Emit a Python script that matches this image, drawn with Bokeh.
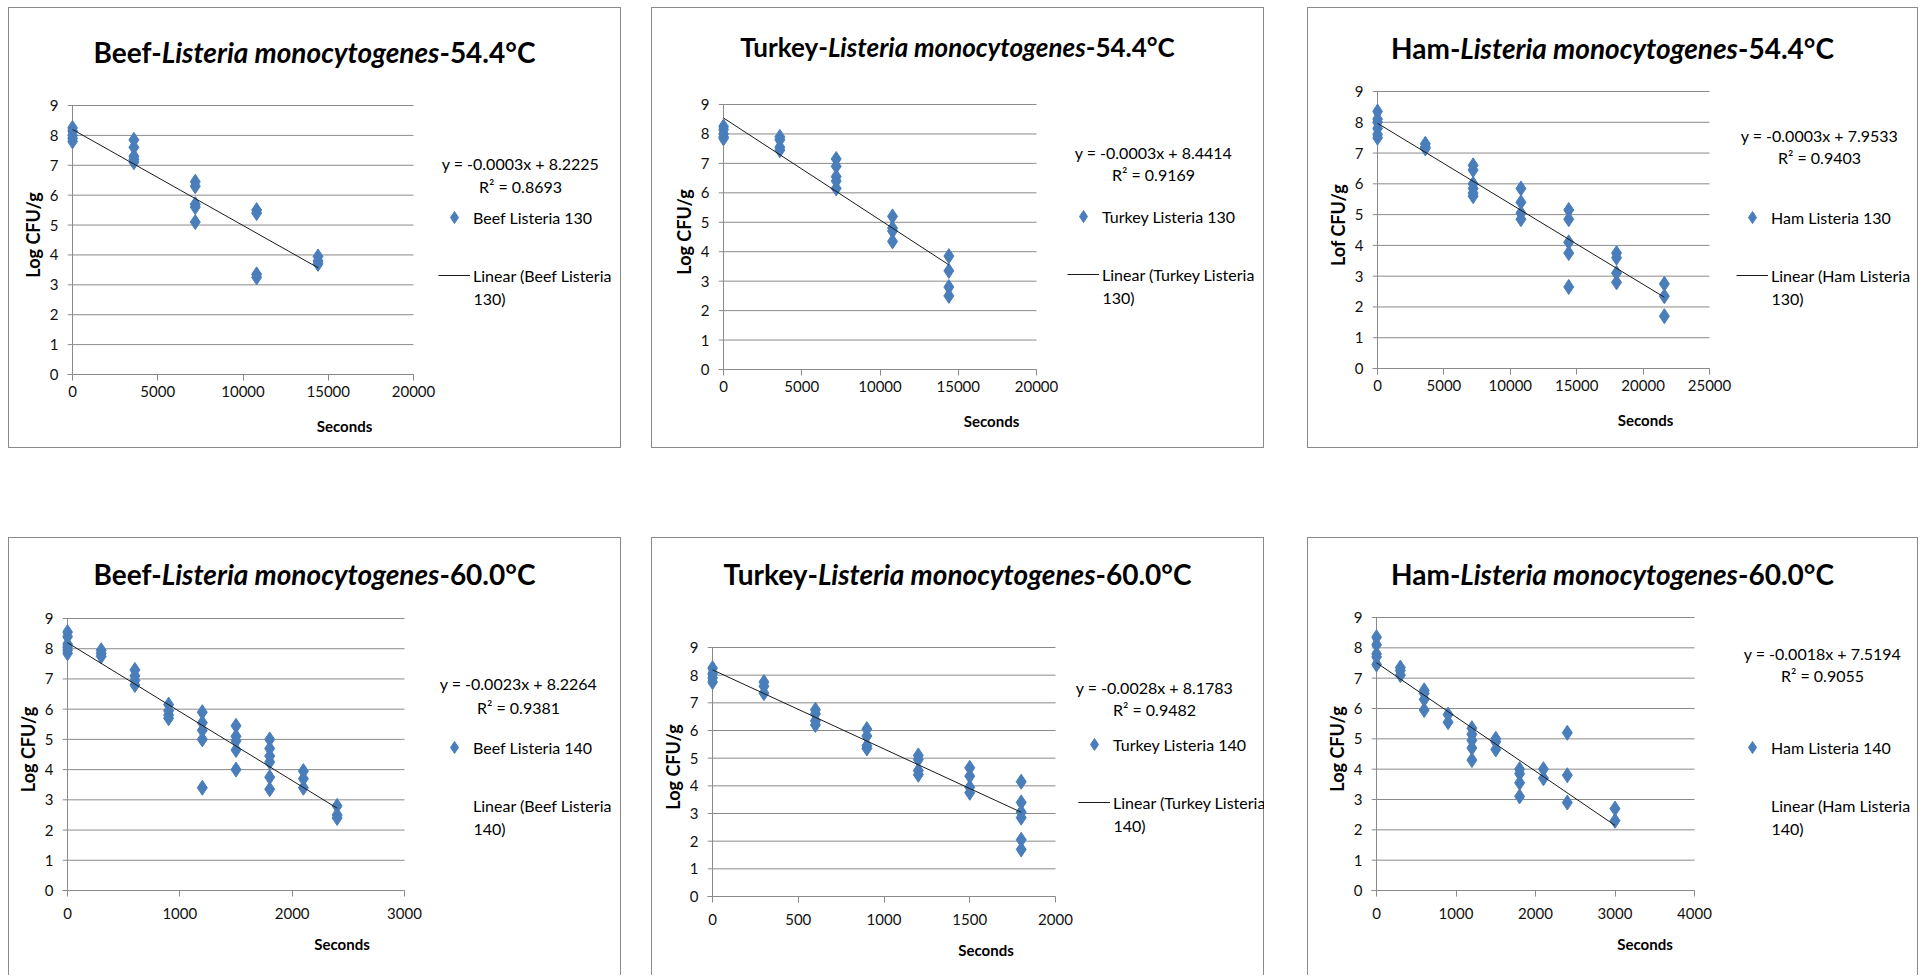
import numpy as np
from bokeh.plotting import figure
from bokeh.layouts import row, column
from bokeh.models import (Div, Spacer, Label, Legend, LegendItem, FixedTicker, Range1d)
from bokeh.embed import file_html
from bokeh.resources import INLINE

# ------------------------------------------------------------------ data
beef130_t = [0, 0, 0, 0, 0, 3600, 3600, 3600, 3600, 3600, 7200, 7200, 7200, 7200, 7200,
             10800, 10800, 10800, 10800, 14400, 14400, 14400]
beef130_y = [8.25, 8.15, 8.0, 7.9, 7.8, 7.85, 7.6, 7.3, 7.2, 7.1, 6.45, 6.3, 5.7, 5.6, 5.1,
             5.5, 5.4, 3.35, 3.25, 3.95, 3.8, 3.7]

turkey130_t = [0, 0, 0, 0, 0, 3600, 3600, 3600, 3600, 7200, 7200, 7200, 7200, 7200,
               10800, 10800, 10800, 10800, 14400, 14400, 14400, 14400]
turkey130_y = [8.25, 8.15, 8.0, 7.9, 7.85, 7.9, 7.8, 7.55, 7.45, 7.15, 6.9, 6.55, 6.4, 6.15,
               5.2, 4.8, 4.7, 4.35, 3.85, 3.35, 2.8, 2.5]

ham130_t = [0, 0, 0, 0, 0, 0, 3600, 3600, 3600, 7200, 7200, 7200, 7200, 7200, 7200,
            10800, 10800, 10800, 10800, 14400, 14400, 14400, 14400, 14400,
            18000, 18000, 18000, 18000, 21600, 21600, 21600]
ham130_y = [8.35, 8.1, 8.0, 7.8, 7.6, 7.5, 7.3, 7.2, 7.15, 6.6, 6.45, 6.0, 5.85, 5.7, 5.6,
            5.85, 5.4, 5.05, 4.85, 5.15, 4.85, 4.1, 3.75, 2.65,
            3.75, 3.6, 3.1, 2.8, 2.75, 2.35, 1.7]

beef140_t = [0, 0, 0, 0, 0, 0, 300, 300, 300, 600, 600, 600, 600, 900, 900, 900, 900,
             1200, 1200, 1200, 1200, 1200, 1500, 1500, 1500, 1500, 1500,
             1800, 1800, 1800, 1800, 1800, 1800, 2100, 2100, 2100, 2400, 2400, 2400]
beef140_y = [8.55, 8.4, 8.15, 8.05, 7.95, 7.85, 7.95, 7.85, 7.75, 7.3, 7.1, 6.95, 6.8,
             6.15, 5.95, 5.8, 5.7, 5.9, 5.55, 5.3, 5.0, 3.4, 5.45, 5.1, 4.95, 4.65, 4.0,
             5.0, 4.7, 4.45, 4.25, 3.75, 3.35, 3.95, 3.7, 3.4, 2.8, 2.5, 2.4]

turkey140_t = [0, 0, 0, 0, 300, 300, 300, 600, 600, 600, 600, 900, 900, 900, 900,
               1200, 1200, 1200, 1200, 1500, 1500, 1500, 1500,
               1800, 1800, 1800, 1800, 1800, 1800]
turkey140_y = [8.25, 8.05, 7.9, 7.75, 7.75, 7.6, 7.35, 6.75, 6.6, 6.35, 6.2,
               6.05, 5.8, 5.45, 5.35, 5.1, 4.95, 4.55, 4.4, 4.65, 4.35, 3.95, 3.75,
               4.15, 3.4, 3.05, 2.85, 2.05, 1.7]

ham140_t = [0, 0, 0, 0, 0, 300, 300, 300, 600, 600, 600, 600, 900, 900,
            1200, 1200, 1200, 1200, 1200, 1500, 1500, 1500, 1800, 1800, 1800, 1800,
            2100, 2100, 2400, 2400, 2400, 3000, 3000]
ham140_y = [8.35, 8.1, 7.8, 7.7, 7.45, 7.35, 7.25, 7.1, 6.6, 6.5, 6.3, 5.95, 5.8, 5.55,
            5.35, 5.15, 4.95, 4.7, 4.3, 5.0, 4.9, 4.65, 4.0, 3.85, 3.55, 3.1,
            4.0, 3.7, 5.2, 3.8, 2.9, 2.7, 2.3]

times = [beef130_t, turkey130_t, ham130_t, beef140_t, turkey140_t, ham140_t]
logs = [beef130_y, turkey130_y, ham130_y, beef140_y, turkey140_y, ham140_y]

title_meat = ["Beef-", "Turkey-", "Ham-", "Beef-", "Turkey-", "Ham-"]
title_organism = "Listeria monocytogenes"
title_temp = ["-54.4°C", "-54.4°C", "-54.4°C", "-60.0°C", "-60.0°C", "-60.0°C"]
series_names = ["Beef Listeria 130", "Turkey Listeria 130", "Ham Listeria 130",
                "Beef Listeria 140", "Turkey Listeria 140", "Ham Listeria 140"]
linear_line1 = ["Linear (Beef Listeria", "Linear (Turkey Listeria", "Linear (Ham Listeria",
                "Linear (Beef Listeria", "Linear (Turkey Listeria", "Linear (Ham Listeria"]
linear_line2 = ["130)", "130)", "130)", "140)", "140)", "140)"]
equations = ["y = -0.0003x + 8.2225", "y = -0.0003x + 8.4414", "y = -0.0003x + 7.9533",
             "y = -0.0023x + 8.2264", "y = -0.0028x + 8.1783", "y = -0.0018x + 7.5194"]
r2_texts = ["R² = 0.8693", "R² = 0.9169", "R² = 0.9403",
            "R² = 0.9381", "R² = 0.9482", "R² = 0.9055"]
y_labels = ["Log CFU/g", "Log CFU/g", "Lof CFU/g", "Log CFU/g", "Log CFU/g", "Log CFU/g"]
x_label = "Seconds"
x_ticks = [[0, 5000, 10000, 15000, 20000],
           [0, 5000, 10000, 15000, 20000],
           [0, 5000, 10000, 15000, 20000, 25000],
           [0, 1000, 2000, 3000],
           [0, 500, 1000, 1500, 2000],
           [0, 1000, 2000, 3000, 4000]]
y_ticks = [0, 1, 2, 3, 4, 5, 6, 7, 8, 9]

# ------------------------------------------------------------------ layout / style
FONT = "Lato"
BLUE = "#4A7EBB"
GRID = "#8A8A8A"
TITLE_H = 64
PANEL_W = [613, 613, 611]
GAP_W = [30, 43]
ROW_H = [441, 439]
TOP_PAD, LEFT_PAD, ROW_GAP = 7, 8, 89
TICK_SO = [5, 11]     # x tick-label standoff per row
XLAB_SO = [17, 13]    # "Seconds" standoff per row
TXT = "16px"

# panel-local pixel geometry
cfg = [
    dict(x0=64, x1=405, ytop=98, ybot=367, tb=55, ts=28, ex=512, ey=156, ry=179, lx=446, ly=210, line=True),
    dict(x0=72, x1=385, ytop=97, ybot=362, tb=50, ts=26, ex=502, ey=145, ry=167, lx=432, ly=209, line=True),
    dict(x0=70, x1=402, ytop=84, ybot=361, tb=51, ts=28, ex=512, ey=128, ry=150, lx=445, ly=210, line=True),
    dict(x0=59, x1=396, ytop=81, ybot=353, tb=47, ts=28, ex=510, ey=146, ry=170, lx=446, ly=210, line=False),
    dict(x0=61, x1=404, ytop=110, ybot=359, tb=47, ts=28, ex=503, ey=150, ry=172, lx=443, ly=207, line=True),
    dict(x0=69, x1=387, ytop=80, ybot=353, tb=47, ts=28, ex=515, ey=116, ry=138, lx=445, ly=210, line=False),
]


def make_panel(i, W, H, r):
    c = cfg[i]
    t = np.array(times[i], dtype=float)
    yv = np.array(logs[i], dtype=float)
    x0, x1, ytop, ybot = c["x0"], c["x1"], c["ytop"], c["ybot"]
    xmax = x_ticks[i][-1]
    ymax = y_ticks[-1]
    upx = xmax / (x1 - x0)          # data units per pixel (x)
    vpx = ymax / (ybot - ytop)      # data units per pixel (y)
    pad_px, top_px = 5, 10
    fl = x0 - pad_px
    x_lo = -pad_px * upx
    x_hi = xmax + (W - x1) * upx
    fig_h = H - TITLE_H

    pt = c["tb"] - 0.87 * c["ts"]
    html = (f'<div style="margin:0;padding-top:{pt:.1f}px;width:{W}px;text-align:center;'
            f'font-family:{FONT};font-weight:bold;font-size:{c["ts"]}px;line-height:{c["ts"]}px;'
            f'color:#000;white-space:nowrap;">{title_meat[i]}<i>{title_organism}</i>{title_temp[i]}</div>')
    div = Div(text=html, width=W, height=TITLE_H, margin=0)

    p = figure(width=W, height=fig_h, output_backend="svg", toolbar_location=None, tools="",
               x_range=Range1d(x_lo, x_hi), y_range=Range1d(0, ymax + top_px * vpx),
               min_border_left=fl, min_border_right=0,
               min_border_top=ytop - top_px - TITLE_H, min_border_bottom=H - ybot,
               background_fill_color=None, border_fill_color=None, outline_line_color=None)

    ax = p.xaxis[0]
    ax.ticker = FixedTicker(ticks=x_ticks[i])
    ax.bounds = (x_lo, xmax)
    ax.axis_line_color = GRID
    ax.major_tick_line_color = GRID
    ax.major_tick_out = 6
    ax.major_tick_in = 0
    ax.minor_tick_line_color = None
    ax.major_label_text_font = FONT
    ax.major_label_text_font_size = "15px"
    ax.major_label_text_color = "#111111"
    ax.major_label_standoff = TICK_SO[r]
    ax.axis_label = x_label
    ax.axis_label_text_font = FONT
    ax.axis_label_text_font_style = "bold"
    ax.axis_label_text_font_size = "15px"
    ax.axis_label_text_color = "#000000"
    ax.axis_label_standoff = XLAB_SO[r]

    ay = p.yaxis[0]
    ay.ticker = FixedTicker(ticks=y_ticks)
    ay.bounds = (0, ymax)
    ay.axis_line_color = None
    ay.major_tick_line_color = None
    ay.minor_tick_line_color = None
    ay.major_label_text_font = FONT
    ay.major_label_text_font_size = "15px"
    ay.major_label_text_color = "#111111"
    ay.major_label_standoff = 3
    ay.axis_label = y_labels[i]
    ay.axis_label_text_font = FONT
    ay.axis_label_text_font_style = "bold"
    ay.axis_label_text_font_size = "18px"
    ay.axis_label_text_color = "#000000"
    ay.axis_label_standoff = 3

    p.xgrid.visible = False
    p.ygrid.visible = False

    # horizontal gridlines (stop at the last x tick) and the vertical axis line at x = 0
    n = len(y_ticks)
    p.segment(x0=[x_lo] * n, y0=y_ticks, x1=[xmax] * n, y1=y_ticks,
              line_color=GRID, line_width=1, level="underlay")
    p.segment(x0=[x_ticks[i][0]], y0=[y_ticks[0]], x1=[x_ticks[i][0]], y1=[ymax],
              line_color=GRID, line_width=1, level="underlay")

    sc = p.scatter(t, yv, marker="diamond", size=15, fill_color=BLUE, line_color=BLUE)
    slope, icpt = np.polyfit(t, yv, 1)
    xs = np.array([0.0, t.max()])
    ln = p.line(xs, icpt + slope * xs, line_color="#1a1a1a", line_width=1)
    leg_ln = ln if c["line"] else p.line(x=[], y=[], line_alpha=0)

    gw, gh, sp = 32, 30, 28
    vx = (c["lx"] - gw / 2) - fl
    vy = ybot - (c["ly"] - gh / 2 + gh * 2 + sp)
    legend = Legend(items=[LegendItem(label=series_names[i], renderers=[sc]),
                           LegendItem(label=linear_line1[i], renderers=[leg_ln])],
                    location=(vx, vy), orientation="vertical",
                    glyph_width=gw, glyph_height=gh, label_height=gh, spacing=sp,
                    padding=0, margin=0, label_standoff=3,
                    border_line_alpha=0, background_fill_alpha=0,
                    label_text_font=FONT, label_text_font_size=TXT,
                    label_text_color="#000000")
    p.add_layout(legend)

    def lab(txt, xl, yl, align):
        p.add_layout(Label(x=xl - fl, y=ybot - yl, x_units="screen", y_units="screen",
                           text=txt, text_align=align, text_baseline="middle",
                           text_font=FONT, text_font_size=TXT, text_color="#000000"))

    lab(linear_line2[i], c["lx"] + gw / 2 + 3, c["ly"] + gh + sp + 23, "left")
    lab(equations[i], c["ex"], c["ey"], "center")
    lab(r2_texts[i], c["ex"], c["ry"], "center")

    styles = {"outline": f"1px solid {GRID}", "outline-offset": "-1px"}
    if r == 1:
        styles["clip-path"] = "inset(0px 0px 1px 0px)"
    return column(div, p, width=W, height=H, styles=styles)


top = row(Spacer(width=LEFT_PAD),
          make_panel(0, PANEL_W[0], ROW_H[0], 0), Spacer(width=GAP_W[0]),
          make_panel(1, PANEL_W[1], ROW_H[0], 0), Spacer(width=GAP_W[1]),
          make_panel(2, PANEL_W[2], ROW_H[0], 0))
bottom = row(Spacer(width=LEFT_PAD),
             make_panel(3, PANEL_W[0], ROW_H[1], 1), Spacer(width=GAP_W[0]),
             make_panel(4, PANEL_W[1], ROW_H[1], 1), Spacer(width=GAP_W[1]),
             make_panel(5, PANEL_W[2], ROW_H[1], 1))
page = column(Spacer(height=TOP_PAD), top, Spacer(height=ROW_GAP), bottom)

open("out.html", "w").write(file_html(page, INLINE))
